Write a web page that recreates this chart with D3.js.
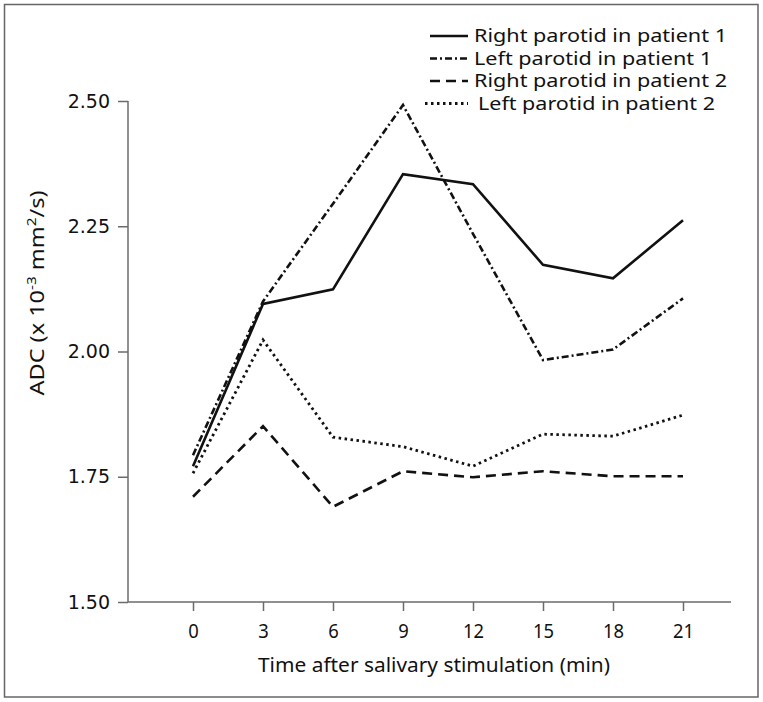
<!DOCTYPE html>
<html><head><meta charset="utf-8">
<script src="https://cdn.jsdelivr.net/npm/d3@7/dist/d3.min.js"></script>
<style>body{margin:0;background:#fff}svg{display:block}</style>
</head><body>
<script>
const times = [0, 3, 6, 9, 12, 15, 18, 21];
const rightP1 = [1.771, 2.095, 2.124, 2.354, 2.334, 2.173, 2.146, 2.262];
const leftP1  = [1.793, 2.100, 2.295, 2.492, 2.235, 1.983, 2.004, 2.106];
const rightP2 = [1.710, 1.851, 1.690, 1.761, 1.749, 1.761, 1.751, 1.751];
const leftP2  = [1.757, 2.023, 1.829, 1.810, 1.771, 1.835, 1.831, 1.873];
const seriesNames = ["Right parotid in patient 1","Left parotid in patient 1","Right parotid in patient 2","Left parotid in patient 2"];
const yTicks = [1.50, 1.75, 2.00, 2.25, 2.50];

const W = 763, H = 702;
const svg = d3.select("body").append("svg").attr("width", W).attr("height", H);
svg.append("rect").attr("x",4.5).attr("y",4.5).attr("width",753.5).attr("height",692.5)
  .attr("fill","none").attr("stroke","#666").attr("stroke-width",1.5);

const x = d3.scaleLinear().domain([0,21]).range([193,683]);
const y = d3.scaleLinear().domain([1.5,2.5]).range([602,101]);
const axisColor = "#6b6b6b";
const font = "'Noto Sans', 'DejaVu Sans', sans-serif";

// y axis
const gy = svg.append("g").attr("transform","translate(128,0)")
  .call(d3.axisLeft(y).tickValues(yTicks).tickFormat(d3.format(".2f")).tickSize(10).tickPadding(8));
gy.select(".domain").attr("stroke",axisColor).attr("stroke-width",1.5).attr("d","M0,101V602");
gy.selectAll(".tick line").attr("stroke",axisColor).attr("stroke-width",1.5);
gy.selectAll(".tick text").attr("font-family","DejaVu Sans, sans-serif").attr("font-size",19).attr("fill","#111");

// x axis
const gx = svg.append("g").attr("transform","translate(0,602)")
  .call(d3.axisBottom(x).tickValues(times).tickSize(9).tickPadding(13));
gx.select(".domain").attr("stroke",axisColor).attr("stroke-width",1.5).attr("d","M128,0H731");
gx.selectAll(".tick line").attr("stroke",axisColor).attr("stroke-width",1.5);
gx.selectAll(".tick text").attr("font-family",font).attr("font-weight",400).attr("font-size",20).attr("fill","#111")
  .attr("transform","scale(0.92,1)").attr("x",0);

svg.append("text").attr("x",434).attr("y",672).attr("text-anchor","middle")
  .attr("font-family",font).attr("font-weight",400).attr("font-size",20).attr("fill","#111")
  .attr("textLength",352).attr("lengthAdjust","spacingAndGlyphs")
  .text("Time after salivary stimulation (min)");

const yt = svg.append("text").attr("transform","translate(44,293) rotate(-90)").attr("text-anchor","middle")
  .attr("font-family",font).attr("font-weight",400).attr("font-size",20).attr("fill","#111")
  .attr("textLength",205).attr("lengthAdjust","spacingAndGlyphs");
yt.append("tspan").text("ADC (x 10");
yt.append("tspan").attr("dy",-8).attr("font-size",13).text("-3");
yt.append("tspan").attr("dy",8).text(" mm");
yt.append("tspan").attr("dy",-8).attr("font-size",13).text("2");
yt.append("tspan").attr("dy",8).text("/s)");

const styles = [
  {dash:null, w:2.6},
  {dash:"7,3,2,3", w:2.6},
  {dash:"10,6", w:2.6},
  {dash:"2.5,3.5", w:2.8}
];
const allSeries = [rightP1, leftP1, rightP2, leftP2];
const line = d3.line().x((d,i)=>x(times[i])).y(d=>y(d));
allSeries.forEach((s,k)=>{
  svg.append("path").datum(s).attr("d",line).attr("fill","none").attr("stroke","#111")
    .attr("stroke-width",styles[k].w).attr("stroke-dasharray",styles[k].dash);
});

// legend
const legY = [36, 58.5, 81, 103.5];
const legW = [253, 238, 253, 237];
seriesNames.forEach((n,k)=>{
  svg.append("line").attr("x1",k===3?425:430).attr("x2",468).attr("y1",legY[k]).attr("y2",legY[k])
    .attr("stroke","#111").attr("stroke-width",styles[k].w).attr("stroke-dasharray",styles[k].dash);
  svg.append("text").attr("x",k===3?478:474).attr("y",legY[k]).attr("dy","0.35em")
    .attr("font-family",font).attr("font-weight",400).attr("font-size",18).attr("fill","#111")
    .attr("textLength",legW[k]).attr("lengthAdjust","spacingAndGlyphs").text(n);
});
</script>
</body></html>
